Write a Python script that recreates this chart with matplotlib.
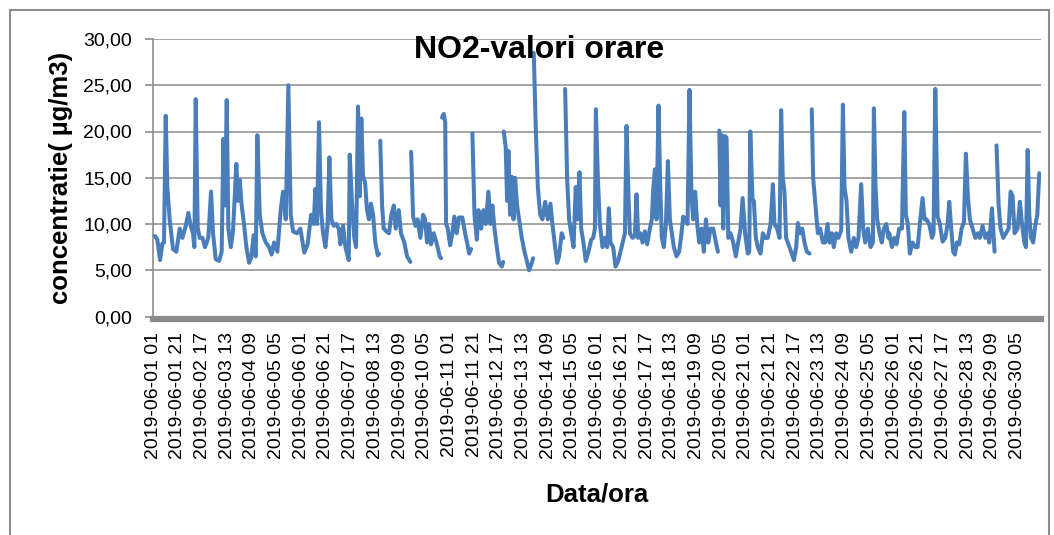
import numpy as np
import matplotlib
matplotlib.use("Agg")
import matplotlib.pyplot as plt
from matplotlib.patches import Rectangle
from matplotlib.ticker import FuncFormatter, FixedLocator, FixedFormatter

plt.rcParams['font.family'] = ['Liberation Sans', 'DejaVu Sans']

# hour index (0 = 2019-06-01 01) and NO2 concentration; None = missing hour
hour_index = [1.6, 3.5, 5.7, 7.6, 8.9, 10.3, 11.6, 13.5, 16.2, 18.9, 21.6, 23.8, 26.5, 28.6, 30.5, 32.4, 33.5, 34.6, 36.2, 37.8, 40.0, 42.1, 44.8, 47.0, 48.6, 50.8, 53.5, 55.6, 57.0, 58.3, 59.7, 61.0, 63.0, 64.8, 67.5, 68.8, 70.2, 71.8, 73.7, 75.6, 77.8, 79.6, 81.5, 83.2, 84.5, 86.4, 88.6, 91.3, 94.0, 96.0, 98.0, 100.7, 103.4, 105.3, 107.5, 109.6, 111.5, 113.4,
              116.6, 119.3, 122.5, 125.2, 128.0, 130.1, 131.5, 132.8, 134.4, 136.0, 137.7, 139.6, 141.4, 142.8, 144.4, 146.3, 148.5, 150.4, 151.7, 153.9, 155.8, 158.5, 159.3, 161.2, 163.0, 164.4, 166.0, 167.4, 168.7, 170.0, 171.7, 173.3, 174.9, 176.5, 178.2, 180.0, 182.0, 183.0, 183.5,
              184.0, 185.5, 186.8, 189.0, 191.1, 193.0, 195.0, 196.5, 199.0, 200.8, 203.5, 205.7, 208.4, 208.7,
              209.0, 210.6, 212.5, 214.3, 216.5, 218.7, 220.3, 221.9, 223.5, 225.1, 227.3, 229.5, 232.2, 233.2, 233.6,
              234.0, 235.4, 236.6, 237.3, 238.7, 240.6, 242.4, 244.0, 245.9, 247.8, 250.5, 252.7, 254.3, 256.0, 257.6, 258.1,
              258.6, 260.3, 262.2, 263.5, 265.7, 267.6, 269.4, 271.6, 273.2, 274.8, 276.5, 278.4, 280.2, 282.4, 283.5, 283.8,
              284.0, 285.6, 286.7, 287.8, 289.1, 290.5, 291.9, 293.2, 294.8, 296.4, 298.6, 300.8, 302.7, 304.5, 306.2, 307.8, 308.0,
              308.3, 310.0, 311.6, 313.5, 315.3, 317.5, 319.7, 321.8, 323.4, 325.6, 327.2, 328.8, 330.9, 332.3, 333.0,
              333.7, 335.3, 336.9, 338.6, 340.5, 342.3, 343.7, 345.3, 346.7, 348.5, 350.4, 352.6, 354.8, 356.4, 357.8, 358.6, 360.2, 361.8, 364.0, 365.9, 367.7, 369.1, 370.4, 372.6, 374.5, 376.7, 379.4, 382.1, 383.4, 385.0, 386.1, 388.3, 390.2, 391.5, 392.9, 394.7, 396.4, 398.3, 400.1, 402.3, 403.9, 405.0, 406.4, 407.7, 409.3, 410.7, 412.0, 413.6, 415.3, 416.9, 418.5, 420.1, 421.7, 423.9, 426.0, 427.9, 429.3, 431.2, 432.8, 434.4, 436.0, 437.4, 439.0, 440.6, 442.3, 444.2, 446.0, 447.7, 449.6, 451.4, 453.6, 455.8, 457.4, 458.0,
              458.5, 459.5, 460.6, 461.7, 463.3, 464.4, 465.8, 467.6, 469.8, 471.9, 473.8, 475.7, 477.4, 479.4, 481.6, 482.8, 483.6, 485.4, 486.5, 488.1, 489.7, 491.9, 493.8, 495.6, 497.8, 500.0, 501.9, 503.2, 505.4, 507.3, 508.6, 509.9, 511.3, 512.6, 514.5, 516.7, 518.9, 520.8, 522.1, 523.7, 525.6, 527.5, 529.4, 531.6, 532.5,
              533.4, 534.5, 536.1, 538.3, 540.2, 542.4, 544.2, 546.1, 547.8, 549.6, 551.2, 553.1, 555.0, 557.2, 558.6, 559.9, 561.5, 563.1, 565.3, 567.5, 569.4, 571.2, 573.4, 575.0, 576.6, 578.8, 581.0, 582.9, 583.7, 585.0, 586.4, 588.3, 590.1, 591.8, 593.7, 595.5, 596.1, 598.3, 600.2, 602.0, 604.2, 606.4, 608.3, 609.6, 611.2, 612.8, 615.0, 617.2, 619.1, 620.9, 623.1, 624.7, 626.3, 628.5, 630.7, 632.0, 633.4, 635.3, 637.1, 639.3, 641.5, 643.4, 644.7, 646.3, 647.9, 649.3, 650.9, 652.8, 654.7, 656.6, 658.2, 659.8, 661.4, 663.6, 665.8, 667.9, 669.5, 671.7, 673.9, 675.8, 677.1, 679.3, 681.4, 682.2,
              683.0, 684.7, 686.3, 688.4, 690.6, 692.8, 694.4, 696.0, 697.6, 700.0, 701.9, 703.6, 705.5, 706.8, 708.2, 709.5, 710.9, 712.7, 714.3, 716.0, 717.6]

no2 = [8.7, 8.3, 6.1, 7.9, 8.0, 21.7, 14.0, 10.5, 7.3, 7.0, 9.5, 8.5, 9.8, 11.2, 9.8, 9.0, 7.5, 23.5, 9.6, 8.5, 8.5, 7.5, 8.5, 13.5, 9.0, 6.2, 6.0, 7.0, 19.2, 12.0, 23.4, 9.5, 7.5, 9.3, 16.5, 12.5, 14.8, 12.0, 10.0, 7.5, 5.8, 6.4, 8.8, 6.5, 19.6, 11.0, 9.0, 8.0, 7.5, 6.7, 8.0, 7.0, 11.5, 13.5, 10.5, 25.0, 11.0, 9.2,
       9.0, 9.5, 6.9, 7.8, 11.0, 10.0, 13.8, 10.0, 21.0, 11.5, 9.0, 7.5, 10.0, 17.2, 10.5, 9.8, 10.0, 9.5, 7.8, 9.8, 7.5, 6.1, 17.5, 12.0, 8.5, 7.5, 22.7, 13.0, 21.4, 15.2, 14.5, 11.5, 10.5, 12.2, 11.0, 8.0, 6.6, 6.8, None,
       19.0, 12.0, 9.5, 9.2, 9.0, 11.0, 12.0, 9.5, 11.5, 9.0, 8.0, 6.5, 5.9, None,
       17.8, 10.8, 9.8, 10.5, 8.5, 11.0, 10.5, 8.0, 10.0, 7.8, 9.0, 8.0, 6.5, 6.3, None,
       21.5, 21.9, 21.0, 10.0, 9.5, 7.7, 9.0, 10.8, 9.0, 10.7, 10.7, 9.0, 8.0, 6.8, 7.3, None,
       19.8, 11.0, 8.3, 11.5, 9.5, 11.5, 10.0, 13.5, 10.0, 12.0, 9.5, 7.5, 5.8, 5.4, 5.9, None,
       20.0, 18.3, 12.5, 17.9, 11.0, 15.1, 10.5, 15.0, 12.0, 10.5, 8.5, 7.0, 6.0, 5.0, 5.6, 6.3, None,
       28.5, 20.0, 14.0, 11.0, 10.5, 12.4, 10.5, 12.2, 10.0, 7.5, 5.8, 6.5, 9.0, 8.5, None,
       24.6, 15.0, 10.5, 9.0, 7.5, 14.0, 10.5, 15.6, 9.5, 8.0, 6.0, 7.0, 8.3, 8.5, 9.5, 22.4, 15.0, 10.0, 7.5, 8.5, 7.5, 11.7, 8.0, 7.5, 5.4, 6.0, 7.5, 9.0, 20.6, 13.0, 9.0, 8.5, 8.7, 13.2, 8.5, 9.0, 8.0, 9.2, 7.8, 9.5, 10.5, 13.7, 15.9, 10.5, 22.8, 14.0, 8.5, 7.5, 10.0, 16.8, 10.5, 9.0, 7.5, 6.5, 7.0, 9.0, 10.8, 10.5, 10.0, 24.5, 13.0, 10.5, 13.5, 10.0, 8.0, 9.5, 7.0, 10.5, 8.0, 9.5, 9.5, 8.0, 7.0, None,
       20.1, 12.0, 19.6, 9.5, 19.5, 19.3, 8.5, 9.0, 8.0, 6.5, 8.0, 9.5, 12.8, 9.0, 6.8, 7.0, 20.0, 12.7, 12.5, 8.5, 7.5, 6.8, 9.0, 8.5, 8.5, 10.0, 14.3, 10.0, 9.5, 8.5, 22.3, 15.0, 13.5, 8.5, 7.8, 7.0, 6.1, 7.5, 10.1, 9.0, 9.5, 8.0, 7.0, 6.8, None,
       22.4, 15.0, 12.5, 9.0, 9.5, 8.0, 8.0, 10.0, 8.0, 9.0, 7.5, 9.0, 8.5, 9.3, 22.9, 14.0, 12.5, 8.5, 7.0, 8.5, 7.5, 8.5, 14.3, 9.5, 8.0, 9.5, 7.5, 8.0, 22.5, 14.0, 10.5, 9.0, 8.0, 9.5, 10.0, 8.5, 9.0, 7.5, 8.5, 7.8, 9.5, 9.5, 22.1, 11.0, 10.0, 6.8, 8.0, 7.5, 7.5, 10.0, 12.8, 10.5, 10.5, 10.0, 8.5, 9.0, 24.6, 10.8, 10.0, 8.1, 8.5, 10.0, 12.4, 9.5, 7.0, 6.7, 8.0, 7.8, 9.5, 10.2, 17.6, 13.0, 10.5, 9.5, 8.5, 9.0, 8.5, 9.8, 8.5, 9.0, 8.0, 11.7, 7.0, None,
       18.5, 12.0, 9.5, 8.5, 9.0, 9.5, 13.5, 13.0, 9.0, 9.5, 12.4, 10.0, 8.0, 7.5, 18.0, 11.0, 8.5, 8.0, 9.8, 11.0, 15.5]

tick_positions = [0, 20, 40, 60, 80, 100, 120, 140, 160, 180, 200, 220, 240, 260, 280, 300, 320, 340,
                  360, 380, 400, 420, 440, 460, 480, 500, 520, 540, 560, 580, 600, 620, 640, 660, 680, 700]
tick_labels = ["2019-06-01 01", "2019-06-01 21", "2019-06-02 17", "2019-06-03 13", "2019-06-04 09",
               "2019-06-05 05", "2019-06-06 01", "2019-06-06 21", "2019-06-07 17", "2019-06-08 13",
               "2019-06-09 09", "2019-06-10 05", "2019-06-11 01", "2019-06-11 21", "2019-06-12 17",
               "2019-06-13 13", "2019-06-14 09", "2019-06-15 05", "2019-06-16 01", "2019-06-16 21",
               "2019-06-17 17", "2019-06-18 13", "2019-06-19 09", "2019-06-20 05", "2019-06-21 01",
               "2019-06-21 21", "2019-06-22 17", "2019-06-23 13", "2019-06-24 09", "2019-06-25 05",
               "2019-06-26 01", "2019-06-26 21", "2019-06-27 17", "2019-06-28 13", "2019-06-29 09",
               "2019-06-30 05"]

title = "NO2-valori orare"
ylabel = "concentratie( µg/m3)"
xlabel = "Data/ora"

W, H = 1054, 535
fig = plt.figure(figsize=(W / 100, H / 100), dpi=100)

# outer chart border
fig.patches.append(Rectangle((10 / W, -0.05), (1049 - 10) / W, 1.05 - 10 / H,
                             transform=fig.transFigure, fill=False,
                             edgecolor='#8c8c8c', linewidth=1.5))

left, right, top, bottom = 153, 1041, 39, 316.5
ax = fig.add_axes([left / W, 1 - bottom / H, (right - left) / W, (bottom - top) / H])

x = np.array(hour_index, dtype=float)
y = np.array([np.nan if v is None else v for v in no2], dtype=float)
ax.plot(x, y, color='#4a7ebb', linewidth=2.9, solid_joinstyle='round', solid_capstyle='round', zorder=3)

ax.set_xlim(0, 719)
ax.set_ylim(0, 30)
ax.set_yticks(np.arange(0, 31, 5))
ax.yaxis.set_major_formatter(FuncFormatter(lambda v, p: f"{v:.2f}".replace('.', ',')))
ax.grid(axis='y', color='#959595', linewidth=1.2, zorder=0)
ax.set_axisbelow(True)

ax.xaxis.set_major_locator(FixedLocator(tick_positions))
ax.xaxis.set_major_formatter(FixedFormatter(tick_labels))
ax.tick_params(axis='x', length=0, pad=9, labelrotation=90, labelsize=14)
ax.tick_params(axis='y', length=6, color='#8c8c8c', width=1.2, labelsize=14, pad=9)

for s in ['top', 'right']:
    ax.spines[s].set_visible(False)
ax.spines['left'].set_color('#8c8c8c')
ax.spines['left'].set_linewidth(1.2)
ax.spines['bottom'].set_color('#8c8c8c')
ax.spines['bottom'].set_linewidth(4.5)
ax.spines['bottom'].set_position(('outward', 2))

fig.text(539 / W, 1 - 50 / H, title, ha='center', va='center', fontsize=23, fontweight='bold')
fig.text(61 / W, 1 - 178 / H, ylabel, ha='center', va='center', rotation=90, fontsize=18.5, fontweight='bold')
fig.text(597 / W, 1 - 494 / H, xlabel, ha='center', va='center', fontsize=18.5, fontweight='bold')

fig.savefig("out.png", dpi=100)
